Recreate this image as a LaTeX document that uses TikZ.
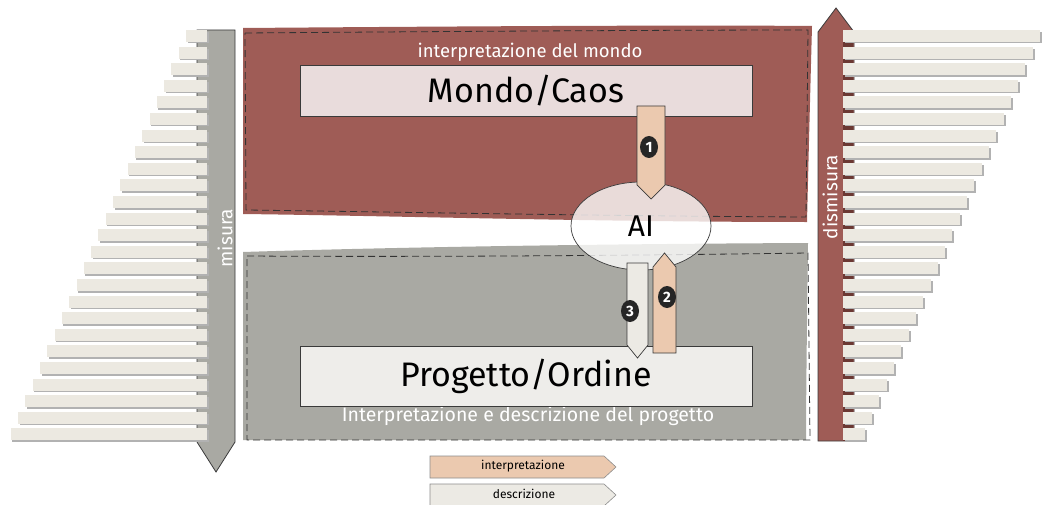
\documentclass[tikz,border=0pt]{standalone}
\usepackage{fontspec}
\setmainfont{Fira Sans}
\definecolor{redband}{HTML}{9F5C56}
\definecolor{grayband}{HTML}{A9A9A3}
\definecolor{barfill}{HTML}{ECE9E1}
\definecolor{peach}{HTML}{EBC9AF}
\definecolor{pale}{HTML}{ECEAE4}
\definecolor{mondofill}{HTML}{E9DCDC}
\definecolor{progfill}{HTML}{EEEDEA}
\definecolor{darkred}{HTML}{6B3833}
\definecolor{outline}{HTML}{3A3A3A}
\tikzset{
  barbox/.style={fill=barfill},
  barshadow/.style={fill=black!30},
  bigbox/.style={draw=outline, line width=0.9pt, minimum width=452pt, inner sep=0pt},
  blockarrow/.style={draw=outline, line width=0.7pt, line join=miter},
  badge/.style={ellipse, fill=black!85, text=white, inner sep=0pt, minimum width=18pt, minimum height=22pt, font=\fontsize{15}{15}\selectfont\bfseries},
  frame/.style={dashed, dash pattern=on 7pt off 4pt, draw=black!80, line width=0.8pt},
  whitelabel/.style={text=white},
  legendbox/.style={draw=black!45, line width=0.6pt},
}
\usetikzlibrary{shapes.geometric}
\begin{document}
\begin{tikzpicture}[x=1pt,y=-1pt]
\useasboundingbox (0,0) rectangle (1043,505);

% ---------- bands ----------
\fill[redband] (243,28) .. controls (500,26) and (700,25) .. (812,26)
  .. controls (810,100) and (808,180) .. (807,222)
  .. controls (600,222) and (400,216) .. (243,214) -- cycle;
\draw[frame] (245,33) .. controls (500,31) and (700,30) .. (808,30)
  -- (806,217) .. controls (600,216) and (400,212) .. (246,210) -- cycle;

\fill[grayband] (243,252) .. controls (400,247) and (600,244) .. (808,243)
  .. controls (807,320) and (806,400) .. (806,440) -- (243,440) -- cycle;
\draw[frame] (247,256) .. controls (400,257) and (600,256) .. (808,253)
  -- (810,440) -- (247,440) -- cycle;

\node[whitelabel, font=\fontsize{18.5}{18.5}\selectfont] (tlabel) at (530,52) {interpretazione del mondo};
\node[whitelabel, font=\fontsize{19.5}{19.5}\selectfont] (blabel) at (528,416) {Interpretazione e descrizione del progetto};

% ---------- main boxes ----------
\node[bigbox, fill=mondofill, minimum height=51pt, font=\fontsize{34}{34}\selectfont] (mondo) at (526,91) {Mondo/Caos};
\node[bigbox, fill=progfill, minimum height=60pt, font=\fontsize{34}{34}\selectfont] (prog) at (526,376) {Progetto/Ordine};

% ---------- AI ----------
\node[ellipse, draw=outline, line width=0.7pt, fill=white, fill opacity=0.78, text opacity=1,
      minimum width=140pt, minimum height=88pt, font=\fontsize{30}{30}\selectfont] (ai) at (641,226) {AI};

% ---------- block arrows ----------
\draw[blockarrow, fill=peach] (637,106) -- (665,106) -- (665,185) -- (651,199) -- (637,185) -- cycle;
\draw[blockarrow, fill=pale] (627,263) -- (648,263) -- (648,345) -- (637.5,358) -- (627,345) -- cycle;
\draw[blockarrow, fill=peach] (653,353) -- (653,267) -- (664.5,253) -- (676,267) -- (676,353) -- cycle;
\node[badge] (b1) at (649,147) {1};
\node[badge] (b2) at (667,297) {2};
\node[badge] (b3) at (630,311) {3};

% ---------- left scale ----------
\draw[fill=grayband, draw=outline, line width=0.8pt] (197,30) -- (235,30) -- (235,442) -- (216,472) -- (197,442) -- cycle;
\foreach \i in {0,...,24} {
  \pgfmathsetmacro\yy{30+\i*16.6}
  \pgfmathsetmacro\xl{186-\i*7.3}
  \fill[barshadow] (\xl+1.5,\yy+2) rectangle (209,\yy+13.5);
  \fill[barbox] (\xl,\yy) rectangle (207,\yy+12);
}
\node[text=white, rotate=90, font=\fontsize{19}{19}\selectfont] (misura) at (225,238) {misura};

% ---------- right scale ----------
\draw[fill=redband, draw=outline, line width=0.8pt] (818,441) -- (818,32) -- (836,8) -- (854,32) -- (854,441) -- cycle;
\fill[darkred] (843,32) rectangle (853,441);
\foreach \i in {0,...,24} {
  \pgfmathsetmacro\yy{30+\i*16.6}
  \pgfmathsetmacro\xr{1040-\i*7.3}
  \fill[barshadow] (845,\yy+2) rectangle (\xr+2,\yy+13.5);
  \fill[barbox] (843,\yy) rectangle (\xr,\yy+12);
}
\node[text=white, rotate=90, font=\fontsize{19}{19}\selectfont] (dismisura) at (830,197) {dismisura};

% ---------- legend ----------
\draw[legendbox, fill=peach] (430,456) -- (604,456) -- (616,467) -- (604,478) -- (430,478) -- cycle;
\node[font=\fontsize{12}{12}\selectfont] (leg1) at (523,466) {interpretazione};
\draw[legendbox, fill=pale] (430,484) -- (604,484) -- (616,495) -- (604,506) -- (430,506) -- cycle;
\node[font=\fontsize{12}{12}\selectfont] (leg2) at (524,494) {descrizione};
\end{tikzpicture}
\end{document}
